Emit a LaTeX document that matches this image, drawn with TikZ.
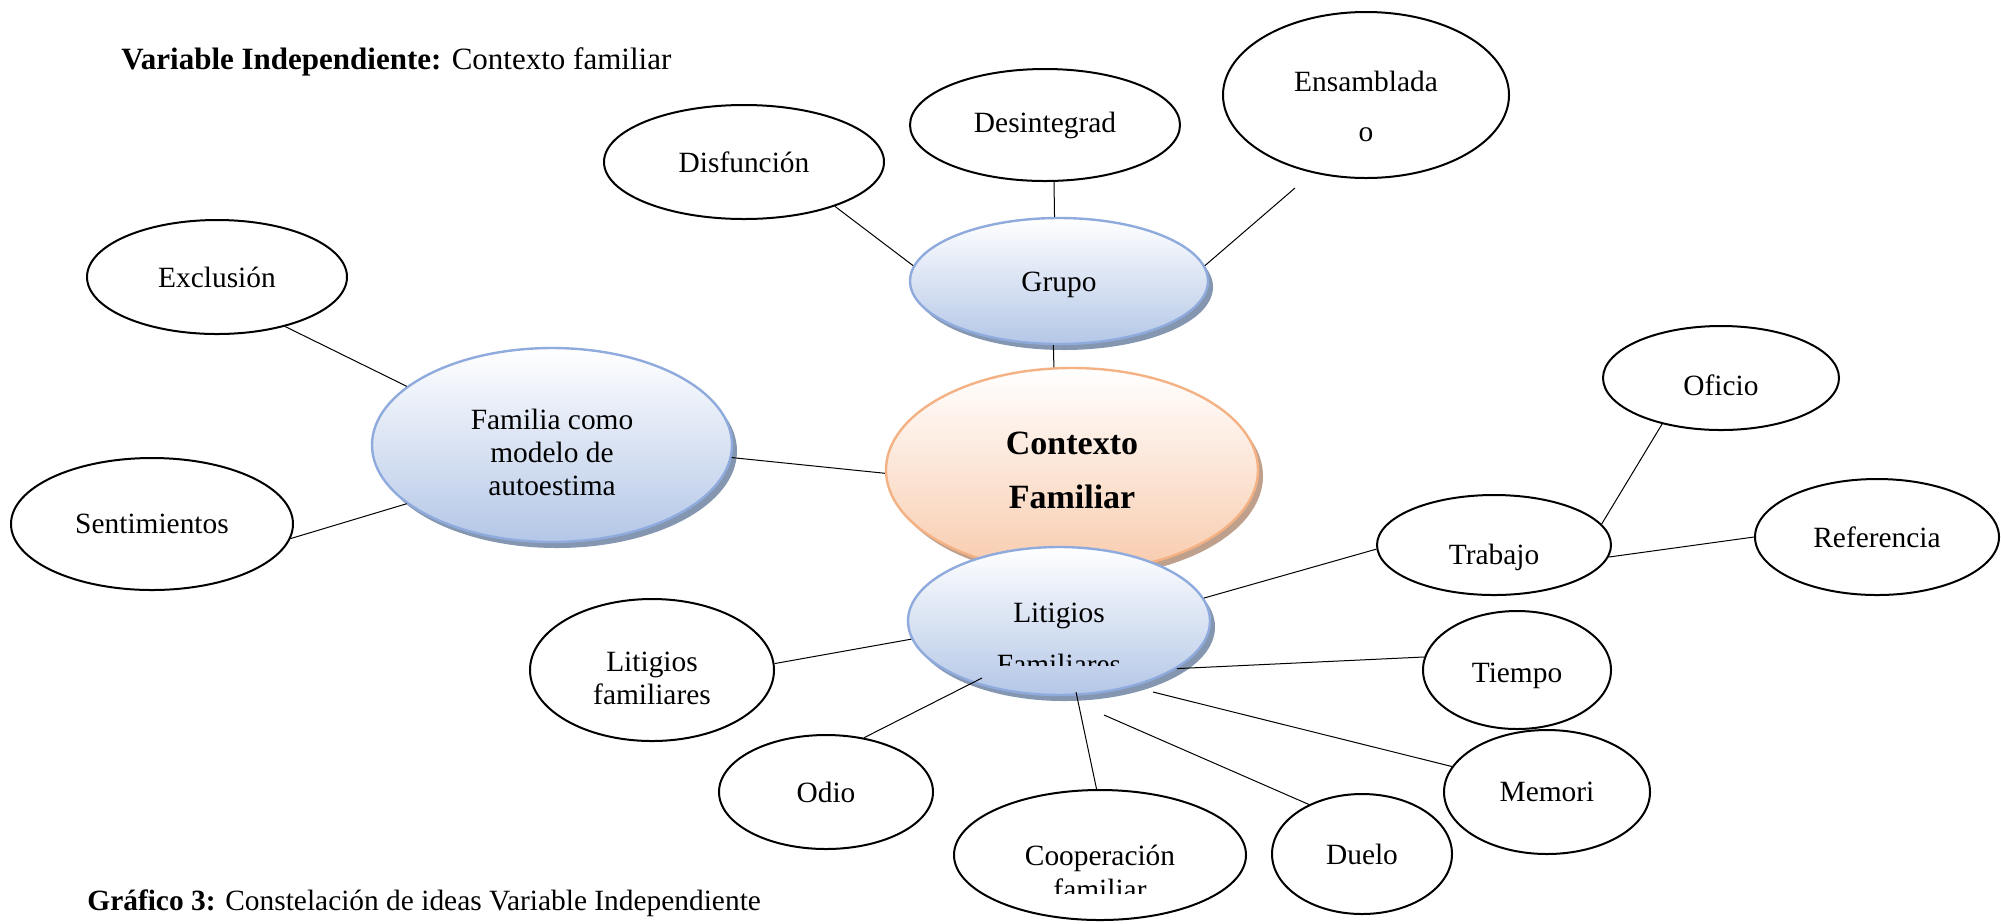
\documentclass[tikz,border=0pt]{standalone}
\usepackage{fontspec}
\setmainfont{Liberation Serif}
\usetikzlibrary{shapes.geometric,shadows,calc}
\definecolor{bluefill}{HTML}{B4C7E7}
\definecolor{blueline}{HTML}{8FAADC}
\definecolor{blueshadow}{HTML}{8496B0}
\definecolor{orangefill}{HTML}{F8CBAD}
\definecolor{orangeline}{HTML}{F4B183}
\definecolor{orangeshadow}{HTML}{BFA08C}
\newcommand\bubblefont{\fontsize{14.7}{16.5}\selectfont}
\newcommand\topstrut[1]{\rule{0pt}{#1}}
\tikzset{
  bubble/.style={ellipse, draw=black, line width=1pt, fill=white, inner sep=0pt, align=center, font=\bubblefont},
  bluebubble/.style={ellipse, draw=blueline, line width=1.2pt, top color=white, bottom color=bluefill,
    inner sep=0pt, align=center, font=\bubblefont,
    drop shadow={shadow xshift=2.5pt, shadow yshift=-3pt, fill=blueshadow, opacity=1}},
  orangebubble/.style={ellipse, draw=orangeline, line width=1.2pt, top color=white, bottom color=orangefill,
    inner sep=0pt, align=center,
    drop shadow={shadow xshift=2.5pt, shadow yshift=-3pt, fill=orangeshadow, opacity=1}},
  link/.style={draw=black, line width=0.5pt},
  plaintext/.style={inner sep=0pt, align=center},
}
\begin{document}
\begin{tikzpicture}[x=0.5pt,y=-0.5pt]
\useasboundingbox (0,0) rectangle (2001,923);

% titles
\node[plaintext, anchor=base west, font=\fontsize{15.5}{18}\selectfont] (title) at (121,69)
  {\textbf{Variable Independiente:} Contexto familiar};
\node[plaintext, anchor=base west, font=\fontsize{14.7}{18}\selectfont] (caption) at (87,910)
  {\textbf{Gráfico 3:} Constelación de ideas Variable Independiente};

% top group
\node[bubble, minimum width=140pt, minimum height=57pt] (disf) at (744,162) {Disfunción};
\node[bubble, minimum width=135pt, minimum height=56pt] (desint) at (1045,125) {Desintegrad};
\node[bubble, minimum width=143pt, minimum height=83pt, font=\fontsize{14.7}{25}\selectfont] (ensam) at (1366,95) {\topstrut{21.5pt}Ensamblada\\o};
\node[bluebubble, minimum width=149pt, minimum height=63pt, text height=13.7pt] (grupo) at (1059,281) {Grupo};

% left group
\node[bubble, minimum width=130pt, minimum height=57pt] (excl) at (217,277) {Exclusión};
\node[bluebubble, minimum width=180pt, minimum height=97pt] (fam) at (552,445) {\topstrut{18pt}Familia como\\modelo de\\autoestima};
\node[bubble, minimum width=141pt, minimum height=66pt] (sent) at (152,524) {Sentimientos};

% centre
\node[orangebubble, minimum width=186pt, minimum height=102pt, font=\bfseries\fontsize{17}{27}\selectfont] (ctx) at (1072,470) {Contexto\\Familiar};

% right group
\node[bubble, minimum width=118pt, minimum height=52pt, text height=18pt] (oficio) at (1721,378) {Oficio};
\node[bubble, minimum width=122pt, minimum height=58pt] (refer) at (1877,537) {Referencia};
\node[bubble, minimum width=117pt, minimum height=50pt, text height=23pt] (trab) at (1494,545) {Trabajo};

% bottom group
\node[bluebubble, minimum width=151pt, minimum height=74pt] (lit) at (1059,621) {};
\begin{scope}
  \clip (900,560) rectangle (1220,665);
  \node[plaintext, font=\fontsize{14.7}{26}\selectfont] (littext) at (1059,639) {Litigios\\Familiares};
\end{scope}
\node[bubble, minimum width=94pt, minimum height=59pt, text height=16pt] (tiempo) at (1517,670) {Tiempo};
\node[bubble, minimum width=103pt, minimum height=62pt] (memori) at (1547,792) {Memori};
\node[bubble, minimum width=122pt, minimum height=71pt] (litfam) at (652,670) {\topstrut{18.3pt}Litigios\\familiares};
\node[bubble, minimum width=107pt, minimum height=57pt] (odio) at (826,792) {Odio};
\node[bubble, minimum width=146pt, minimum height=65pt] (coop) at (1100,855) {};
\begin{scope}
  \clip (960,800) rectangle (1240,893);
  \node[plaintext, font=\fontsize{14.7}{17}\selectfont] (cooptext) at (1100,872) {Cooperación\\familiar};
\end{scope}
\node[bubble, minimum width=90pt, minimum height=60pt] (duelo) at (1362,854) {Duelo};

% connectors
\draw[link] (disf.-26) -- (grupo.174);
\draw[link] (desint.-81) -- (grupo.94);
\draw[link] ($(ensam.center)+(-71,93)$) -- (grupo.6);
\draw[link] (grupo.-95) -- (ctx.100);
\draw[link] (excl.-36) -- (fam.158);
\draw[link] (sent.-6) -- (fam.-158);
\draw[link] (fam.-4) -- (ctx.181);
\draw[link] (lit.9) -- (trab.182);
\draw[link] (trab.11) -- (oficio.-142);
\draw[link] (trab.-6) -- (refer.180);
\draw[link] (lit.-22) -- (tiempo.172);
\draw[link] ($(lit.center)+(94,71)$) -- (memori.165);
\draw[link] ($(lit.center)+(45,94)$) -- (duelo.137);
\draw[link] ($(lit.center)+(17,71)$) -- (coop.93);
\draw[link] ($(lit.center)+(-77,57)$) -- (odio.55);
\draw[link] (lit.187) -- (litfam.3);
\end{tikzpicture}
\end{document}
